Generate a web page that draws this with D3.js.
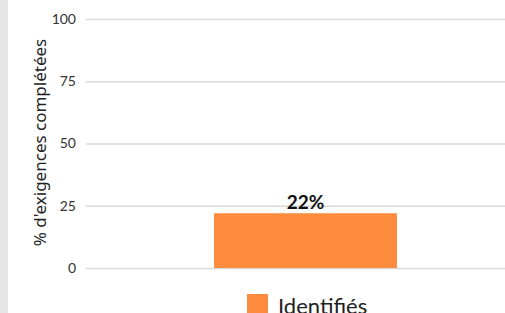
<!DOCTYPE html>
<html lang="fr">
<head>
<meta charset="UTF-8">
<title>Exigences complétées</title>
<script src="https://d3js.org/d3.v7.min.js"></script>
<style>
html, body { margin: 0; padding: 0; background: white; }
body { font-family: Lato, 'Open Sans', sans-serif; }
.tick text { font-size: 14px; fill: #333; font-family: Lato, sans-serif; }
</style>
</head>
<body>
<div id="chart"></div>
<script>

// data
const categories = ["Identifiés"];
const values = [22];
const tickValues = [0, 25, 50, 75, 100];

const totalWidth = 505, totalHeight = 313;
const margin = {top: 19, right: 0, bottom: 45, left: 86};

const svg = d3.select("#chart").append("svg")
  .attr("width", totalWidth)
  .attr("height", totalHeight);

// grey strip at the left edge
svg.append("rect")
  .attr("x", 0).attr("y", 0)
  .attr("width", 8).attr("height", totalHeight)
  .attr("fill", "#e6e6e6");

const y = d3.scaleLinear()
  .domain([0, 100])
  .range([totalHeight - margin.bottom, margin.top]);

const x = d3.scaleBand()
  .domain(categories)
  .range([86, 525])
  .paddingInner(0)
  .paddingOuter(0);

// grid + tick labels
const yAxis = svg.append("g")
  .attr("transform", `translate(${margin.left},0)`)
  .call(d3.axisLeft(y).tickValues(tickValues).tickSize(-(totalWidth - margin.left)).tickPadding(10));
yAxis.select(".domain").remove();
yAxis.selectAll(".tick line").attr("stroke", "#d9d9d9").attr("stroke-width", 1.5);

// axis title
svg.append("text")
  .attr("transform", `translate(46,${(y(0) + y(100)) / 2 - 1}) rotate(-90)`)
  .attr("text-anchor", "middle")
  .attr("font-family", "'Noto Sans', sans-serif")
  .attr("font-size", 17)
  .attr("fill", "#222")
  .text("% d'exigences complétées");

// bar
const barW = 183;
svg.selectAll(".bar")
  .data(values)
  .join("rect")
  .attr("class", "bar")
  .attr("x", (d, i) => x(categories[i]) + x.bandwidth() / 2 - barW / 2 - 0)
  .attr("y", d => y(d))
  .attr("width", barW)
  .attr("height", d => y(0) - y(d))
  .attr("fill", "#fd8c3e");

svg.selectAll(".lbl")
  .data(values)
  .join("text")
  .attr("class", "lbl")
  .attr("x", (d, i) => x(categories[i]) + x.bandwidth() / 2)
  .attr("y", d => y(d) - 4)
  .attr("text-anchor", "middle")
  .attr("font-size", 19)
  .attr("font-weight", "bold")
  .attr("fill", "#111")
  .text(d => d + "%");

// legend
const legend = svg.append("g").attr("transform", "translate(247,294)");
legend.append("rect")
  .attr("width", 21).attr("height", 21)
  .attr("fill", "#fd8c3e");
legend.append("text")
  .attr("x", 31).attr("y", 20)
  .attr("font-size", 22)
  .attr("fill", "#222")
  .text(categories[0]);

</script>
</body>
</html>
